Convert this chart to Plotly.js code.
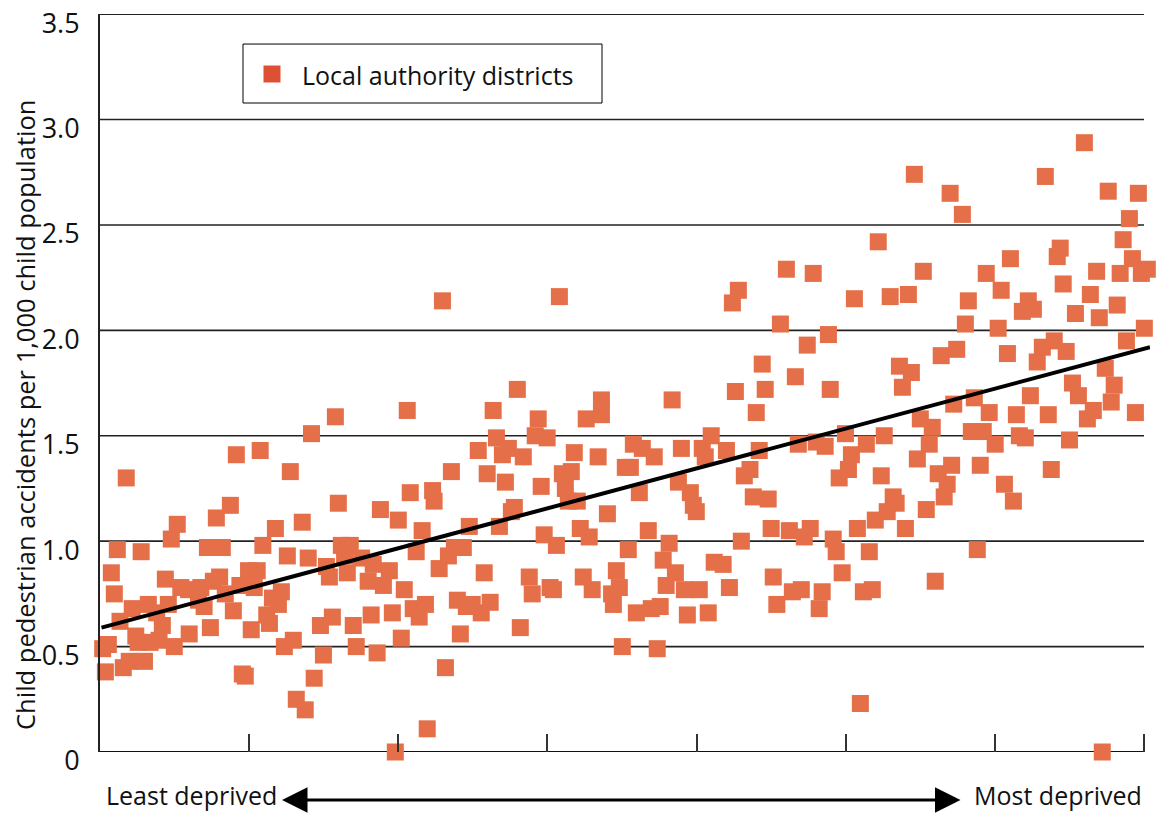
<!DOCTYPE html>
<html><head><meta charset="utf-8">
<script src="https://cdn.plot.ly/plotly-3.0.1.min.js"></script>
<style>html,body{margin:0;padding:0;background:#fff}#chart{width:1169px;height:814px}</style>
</head><body><div id="chart"></div>
<script>
const deprivationRank = [
0.9,2.8,1.8,3.8,4.8,5.8,6.7,7.8,8.8,9.8,10.8,12.0,12.8,13.8,14.9,16.2,16.8,19.0,19.8,20.9,21.9,22.9,23.9,24.9,25.9,27.1,29.7,29.9,33.0,33.8,34.9,36.0,37.0,38.0,39.0,40.1,41.0,42.0,43.7,44.7,45.7,46.9,47.7,48.7,49.8,50.7,51.7,52.7,53.7,
54.6,55.9,56.8,57.8,58.8,59.8,60.8,61.8,62.8,63.8,64.8,65.8,67.8,68.8,69.8,70.9,71.8,73.9,74.9,75.9,76.9,77.9,78.9,79.9,80.9,82.0,82.9,83.9,84.9,85.9,87.7,89.9,90.9,91.6,92.9,94.0,95.0,97.0,98.0,99.0,100.0,101.0,102.0,103.0,104.0,105.0,106.0,107.0,108.0,109.1,109.7,111.5,112.0,
113.7,114.8,115.8,116.8,117.8,118.8,119.8,120.8,121.8,122.8,123.8,124.8,126.8,127.8,128.8,129.8,130.8,131.8,132.9,133.9,134.9,135.9,136.9,137.9,138.9,139.9,140.9,141.9,143.9,144.9,145.9,146.9,147.9,148.9,149.9,150.9,152.0,153.0,154.0,155.0,156.0,157.0,158.0,159.0,160.0,161.0,162.0,163.0,164.0,165.0,167.0,168.1,168.1,170.1,
171.5,172.1,173.1,174.1,175.1,176.1,177.1,177.8,178.8,179.8,180.8,181.8,183.8,184.8,185.8,186.8,187.8,188.8,189.8,190.8,191.8,192.9,193.9,194.9,195.9,196.9,197.9,198.9,199.9,200.9,201.9,202.9,203.9,204.9,205.9,208.9,210.0,211.0,212.0,213.0,214.0,215.0,216.0,217.9,219.0,220.0,221.0,222.0,223.0,224.0,225.0,225.7,226.9,
228.1,230.1,231.1,232.1,233.1,234.1,235.1,236.1,237.1,238.1,239.1,240.1,241.1,242.1,243.1,244.2,244.8,245.8,246.8,247.8,248.8,249.9,250.9,251.9,252.9,253.9,254.9,255.9,256.9,257.9,258.9,259.9,260.9,261.9,262.9,263.9,264.9,265.9,266.9,268.0,269.0,270.0,271.0,272.0,273.0,274.0,275.0,276.0,277.0,278.0,279.0,280.0,281.0,282.0,283.0,284.0,285.0,285.5,286.2,287.2,
289.1,290.1,291.1,292.1,293.1,294.1,295.1,296.1,297.1,298.1,300.1,301.1,302.1,303.2,304.2,305.2,306.2,307.2,308.2,309.2,310.2,311.2,311.9,312.9,314.2,315.9,316.9,317.9,318.9,319.9,320.9,321.9,322.9,323.9,325.0,326.0,327.0,328.0,330.0,331.0,332.0,333.0,334.1,335.0,336.0,337.0,338.0,339.0,340.0,341.0,342.0,343.0,344.1,345.1,346.1,347.1,348.1,349.1,350.1,351.1,352.1,353.1,354.1
];
const accidentRate = [
0.49,0.51,0.38,0.85,0.75,0.96,0.62,0.40,1.30,0.43,0.68,0.55,0.52,0.95,0.43,0.70,0.52,0.66,0.53,0.60,0.82,0.70,1.01,0.50,1.08,0.78,0.77,0.56,0.72,0.78,0.69,0.97,0.59,0.81,1.11,0.83,0.97,0.75,1.17,0.67,1.41,0.79,0.37,0.36,0.86,0.58,0.78,0.86,1.43,
0.98,0.65,0.61,0.73,1.06,0.70,0.76,0.50,0.93,1.33,0.53,0.25,1.09,0.20,0.92,1.51,0.35,0.60,0.46,0.88,0.83,0.64,1.59,1.18,0.98,0.93,0.85,0.98,0.60,0.50,0.92,0.81,0.65,0.89,0.47,1.15,0.79,0.86,0.66,0,1.10,0.54,0.77,1.62,1.23,0.68,0.95,0.64,1.05,0.70,0.11,1.24,1.19,
0.87,2.14,0.40,0.93,1.33,0.97,0.72,0.56,0.97,0.69,1.07,0.70,1.43,0.66,0.85,1.32,0.71,1.62,1.49,1.07,1.41,1.28,1.44,1.14,1.16,1.72,0.59,1.40,0.83,0.75,1.50,1.58,1.26,1.03,1.49,0.78,0.77,0.98,2.16,1.32,1.25,1.19,1.33,1.42,1.19,1.06,0.83,1.58,1.02,0.77,1.40,1.67,1.60,1.13,
0.75,0.70,0.86,0.78,0.50,1.35,0.96,1.35,1.46,0.66,1.23,1.44,1.05,0.68,1.40,0.49,0.69,0.91,0.79,0.99,1.67,0.85,1.28,1.44,0.77,0.65,1.23,1.17,1.14,0.77,1.44,1.40,0.66,1.50,0.90,0.89,1.43,0.78,2.13,1.71,2.19,1.00,1.31,1.34,1.21,1.61,1.43,1.84,1.72,1.20,1.06,0.83,0.70,
2.03,2.29,1.05,0.76,1.78,1.46,0.77,1.02,1.93,1.06,2.27,1.47,0.68,0.76,1.45,1.98,1.72,1.01,0.95,1.30,0.85,1.51,1.34,1.41,2.15,1.06,0.23,0.76,1.46,0.95,0.77,1.10,2.42,1.31,1.50,1.14,2.16,1.21,1.18,1.83,1.73,1.06,2.17,1.80,2.74,1.39,1.58,2.28,1.15,1.46,1.54,0.81,1.32,1.88,1.21,1.27,2.65,1.36,1.65,1.91,
2.55,2.03,2.14,1.52,1.68,0.96,1.36,1.52,2.27,1.61,1.46,2.01,2.19,1.27,1.89,2.34,1.19,1.60,1.50,2.09,1.49,2.14,1.69,2.10,1.85,1.92,2.73,1.60,1.34,1.95,2.35,2.39,2.22,1.90,1.48,1.75,2.08,1.69,2.89,1.58,2.17,1.62,2.28,2.06,0,1.82,2.66,1.66,1.74,2.12,2.27,2.43,1.95,2.53,2.34,1.61,2.65,2.27,2.01,2.29,2.90,1.87,1.81
];
const trendRank = [0.5, 352];
const trendRate = [0.59, 1.92];
const yTickVals = [0, 0.5, 1, 1.5, 2, 2.5, 3, 3.5];
const yTickText = ['0', '0.5', '1.0', '1.5', '2.0', '2.5', '3.0', '3.5'];
const xTickVals = [0, 50, 100, 150, 200, 250, 300, 350];
const gridVals = [0.5, 1, 1.5, 2, 2.5, 3, 3.5];
const legendLabel = 'Local authority districts';
const yTitle = 'Child pedestrian accidents per 1,000 child population';
const leftLabel = 'Least deprived';
const rightLabel = 'Most deprived';

const FONT = 'Open Sans, Noto Sans, sans-serif';
const MARK = 'rgb(228,111,73)';
const xMax = 350;
const TXT = 25;

const traces = [
  {x: deprivationRank, y: accidentRate, type: 'scatter', mode: 'markers', name: legendLabel,
   cliponaxis: false, showlegend: false, hoverinfo: 'skip',
   marker: {symbol: 'square', size: 17, color: MARK, line: {width: 0}}},
  {x: trendRank, y: trendRate, type: 'scatter', mode: 'lines', showlegend: false, hoverinfo: 'skip',
   line: {color: '#000', width: 4}}
];

const shapes = gridVals.map(v => ({type: 'line', xref: 'x', yref: 'y', x0: 0, x1: xMax, y0: v, y1: v,
  layer: 'below', line: {color: '#222', width: 1.6}}));
shapes.push({type: 'line', xref: 'x', yref: 'y', x0: 0, x1: xMax, y0: 0, y1: 0, layer: 'below', line: {color: '#111', width: 2.2}});
// legend box and key
shapes.push({type: 'rect', xref: 'paper', yref: 'paper', x0: 0.1362, x1: 0.4781, y0: 0.8794, y1: 0.9593,
  line: {color: '#000', width: 1}, fillcolor: '#fff', layer: 'above'});
shapes.push({type: 'rect', xref: 'paper', yref: 'paper', x0: 0.1557, x1: 0.1719, y0: 0.9072, y1: 0.9302,
  line: {width: 0}, fillcolor: 'rgb(222,80,52)', layer: 'above'});

const annotations = [
  {text: legendLabel, xref: 'paper', yref: 'paper', x: 0.1905, y: 0.9173, xanchor: 'left', yanchor: 'middle',
   showarrow: false, font: {family: FONT, size: TXT, color: '#111'}},
  {text: yTitle, xref: 'paper', yref: 'paper', x: -0.0715, y: 0.4566, xanchor: 'center', yanchor: 'middle',
   textangle: -90, showarrow: false, font: {family: FONT, size: 25.5, color: '#111'}},
  {text: leftLabel, xref: 'paper', yref: 'paper', x: 0.0048, y: -0.0825, xanchor: 'left', yanchor: 'bottom',
   borderpad: 0, showarrow: false, font: {family: FONT, size: TXT, color: '#111'}},
  {text: rightLabel, xref: 'paper', yref: 'paper', x: 0.9933, y: -0.0825, xanchor: 'right', yanchor: 'bottom',
   borderpad: 0, showarrow: false, font: {family: FONT, size: TXT, color: '#111'}},
  {text: '', xref: 'paper', yref: 'paper', x: 0.8195, y: -0.065, ax: -680, ay: 0,
   showarrow: true, arrowside: 'end+start', arrowhead: 2, startarrowhead: 2, arrowsize: 1.7, startarrowsize: 1.7,
   arrowwidth: 3, arrowcolor: '#000', standoff: 0, startstandoff: 0}
];

const layout = {
  width: 1169, height: 814,
  margin: {l: 100, r: 19, t: 14, b: 62, pad: 0},
  paper_bgcolor: '#fff', plot_bgcolor: '#fff',
  showlegend: false,
  font: {family: FONT, size: TXT, color: '#111'},
  xaxis: {range: [0, 352], showgrid: false, zeroline: false, showline: false,
    tickmode: 'array', tickvals: xTickVals, ticks: 'inside', ticklen: 18, tickwidth: 2, tickcolor: '#333',
    showticklabels: false, fixedrange: true},
  yaxis: {range: [0, 3.5005], showgrid: false, zeroline: false, showline: true, linecolor: '#222', linewidth: 2,
    tickmode: 'array', tickvals: yTickVals, ticktext: yTickText, ticks: '', ticklabelshift: 9, ticklabelstandoff: 13,
    ticklabeloverflow: 'allow',
    tickfont: {family: FONT, size: 27, color: '#111'}, fixedrange: true},
  shapes: shapes,
  annotations: annotations
};

Plotly.newPlot('chart', traces, layout, {displayModeBar: false, staticPlot: true});
</script>
</body></html>
